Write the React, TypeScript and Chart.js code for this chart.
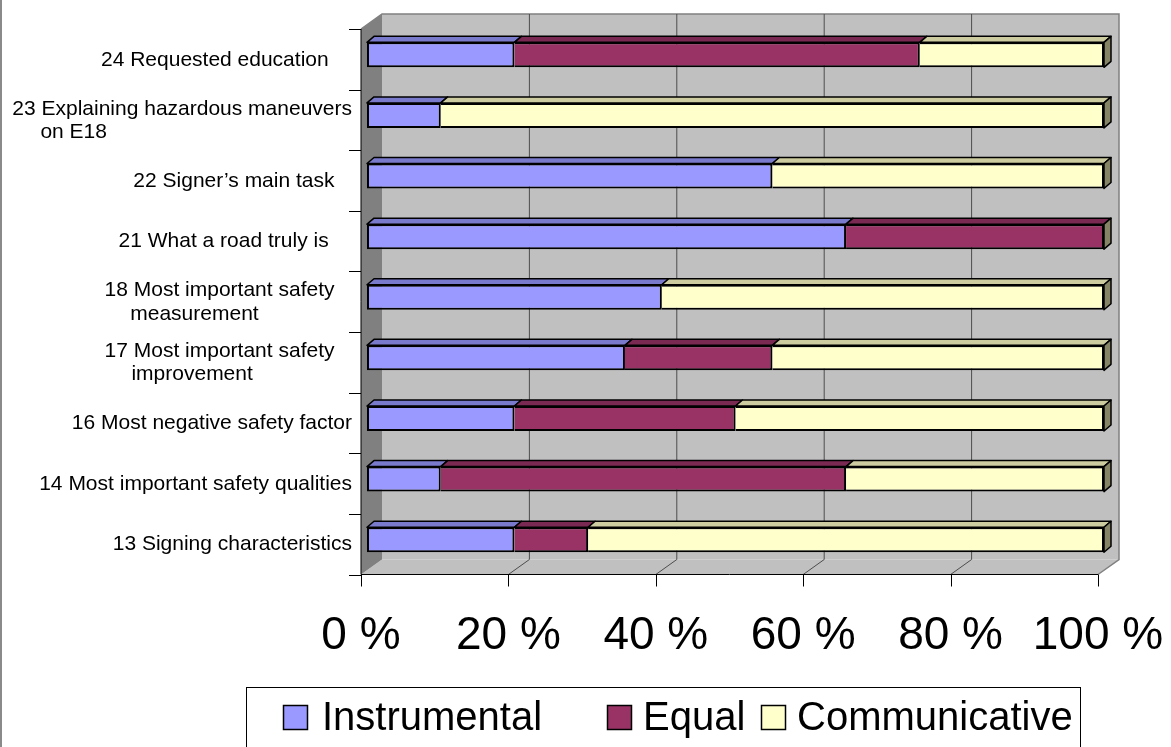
import React, { useEffect, useRef } from "react";
import { Chart, registerables } from "chart.js";

Chart.register(...registerables);

const FONT = '"Liberation Sans", Arial, Helvetica, sans-serif';

// Category labels (top to bottom), with the spacing of the original labels
const categoryLabels: (string | string[])[] = [
  "24 Requested education    ",
  ["23 Explaining hazardous maneuvers", "on E18" + " ".repeat(42)],
  "22 Signer\u2019s main task   ",
  "21 What a road truly is    ",
  ["18 Most important safety   ", "measurement" + " ".repeat(16)],
  ["17 Most important safety   ", "improvement" + " ".repeat(17)],
  "16 Most negative safety factor",
  "14 Most important safety qualities",
  "13 Signing characteristics",
];

const seriesNames = ["Instrumental", "Equal", "Communicative"];

const instrumental = [20, 10, 55, 65, 40, 35, 20, 10, 20];
const equal = [55, 0, 0, 35, 0, 20, 30, 55, 10];
const communicative = [25, 90, 45, 0, 60, 45, 50, 35, 70];

const xTickValues = [0, 20, 40, 60, 80, 100];

const frontColors = ["#9999FF", "#993366", "#FFFFCC"];
const topColors = ["#7A7ACC", "#7A2952", "#CCCCA0"];
const sideColors = ["#6B6BB3", "#5C1F3D", "#858566"];

// 3D geometry (pixels): bar plane -> front plane, bar plane -> back wall, bar depth
const FRONT = { dx: -6, dy: 4.5 };
const BACK = { dx: 15, dy: -10.5 };
const DEPTH = { dx: 7, dy: -6 };

function poly(ctx: CanvasRenderingContext2D, pts: number[][]) {
  ctx.beginPath();
  ctx.moveTo(pts[0][0], pts[0][1]);
  for (let i = 1; i < pts.length; i++) ctx.lineTo(pts[i][0], pts[i][1]);
  ctx.closePath();
}

const wallsPlugin = {
  id: "walls3d",
  beforeDraw(chart: any) {
    const { ctx, chartArea: ca, scales } = chart;
    const x = scales.x;
    const n = categoryLabels.length;
    const left = x.getPixelForValue(0);
    const right = x.getPixelForValue(100);
    const fl = left + FRONT.dx, fr = right + FRONT.dx;
    const ft = ca.top + FRONT.dy, fb = ca.bottom + FRONT.dy;
    const bl = left + BACK.dx, br = right + BACK.dx;
    const bt = ca.top + BACK.dy, bb = ca.bottom + BACK.dy;
    ctx.save();
    // back wall
    ctx.fillStyle = "#C0C0C0";
    ctx.fillRect(bl, bt, br - bl, bb - bt);
    // floor
    poly(ctx, [[fl, fb], [fr, fb], [br, bb], [bl, bb]]);
    ctx.fillStyle = "#C0C0C0";
    ctx.fill();
    // left wall
    poly(ctx, [[fl, ft], [bl, bt], [bl, bb], [fl, fb]]);
    ctx.fillStyle = "#808080";
    ctx.fill();
    // outlines
    ctx.strokeStyle = "#808080";
    ctx.lineWidth = 1.5;
    ctx.beginPath();
    ctx.moveTo(fl, ft);
    ctx.lineTo(bl, bt);
    ctx.lineTo(br, bt);
    ctx.lineTo(br, bb);
    ctx.lineTo(fr, fb);
    ctx.stroke();
    // gridlines on wall and floor
    ctx.strokeStyle = "#4D4D4D";
    ctx.lineWidth = 1;
    for (const v of xTickValues) {
      if (v === 0 || v === 100) continue;
      const p = x.getPixelForValue(v);
      ctx.beginPath();
      ctx.moveTo(p + BACK.dx, bt);
      ctx.lineTo(p + BACK.dx, bb);
      ctx.lineTo(p + FRONT.dx, fb);
      ctx.stroke();
    }
    // axes
    ctx.strokeStyle = "#000";
    ctx.lineWidth = 1;
    ctx.beginPath();
    ctx.moveTo(fl, ft);
    ctx.lineTo(fl, fb);
    ctx.lineTo(fr, fb);
    ctx.stroke();
    // ticks left (category boundaries)
    const band = (ca.bottom - ca.top) / n;
    ctx.beginPath();
    for (let k = 0; k <= n; k++) {
      const yy = Math.round(ca.top + k * band + FRONT.dy) + 0.5;
      ctx.moveTo(fl - 12, yy);
      ctx.lineTo(fl, yy);
    }
    // ticks bottom
    for (const v of xTickValues) {
      const xx = Math.round(x.getPixelForValue(v) + FRONT.dx) + 0.5;
      ctx.moveTo(xx, fb);
      ctx.lineTo(xx, fb + 12);
    }
    ctx.stroke();
    ctx.restore();
  },
  afterDatasetsDraw(chart: any) {
    const { ctx } = chart;
    const metas = chart.data.datasets.map((_: any, i: number) => chart.getDatasetMeta(i));
    const n = categoryLabels.length;
    ctx.save();
    ctx.strokeStyle = "#000";
    ctx.lineWidth = 1.5;
    ctx.lineJoin = "round";
    for (let j = 0; j < n; j++) {
      let lastEnd = 0, top = 0, bottom = 0;
      metas.forEach((meta: any, i: number) => {
        const el = meta.data[j];
        if (!el) return;
        const p = el.getProps(["x", "y", "base", "height"], true);
        const x0 = Math.min(p.x, p.base), x1 = Math.max(p.x, p.base);
        top = p.y - p.height / 2;
        bottom = p.y + p.height / 2;
        lastEnd = Math.max(lastEnd, x1);
        if (x1 - x0 < 0.5) return;
        poly(ctx, [[x0, top], [x1, top], [x1 + DEPTH.dx, top + DEPTH.dy], [x0 + DEPTH.dx, top + DEPTH.dy]]);
        ctx.fillStyle = topColors[i];
        ctx.fill();
        ctx.stroke();
      });
      // right end face (drawn in the last series' shade)
      poly(ctx, [[lastEnd, top], [lastEnd + DEPTH.dx, top + DEPTH.dy], [lastEnd + DEPTH.dx, bottom + DEPTH.dy], [lastEnd, bottom]]);
      ctx.fillStyle = sideColors[sideColors.length - 1];
      ctx.fill();
      ctx.stroke();
    }
    ctx.restore();
  },
  afterDraw(chart: any) {
    const { ctx } = chart;
    ctx.save();
    // outer border on the left edge
    ctx.fillStyle = "#8A8A8A";
    ctx.fillRect(0, 0, 2, chart.height);
    // legend
    ctx.strokeStyle = "#000";
    ctx.lineWidth = 1;
    ctx.strokeRect(246.5, 687.5, 834, 80);
    const swatchX = [283, 607, 761];
    const textX = [322, 643, 797];
    ctx.font = `40px ${FONT}`;
    ctx.textBaseline = "alphabetic";
    ctx.textAlign = "left";
    chart.data.datasets.forEach((ds: any, i: number) => {
      ctx.fillStyle = ds.backgroundColor;
      ctx.fillRect(swatchX[i], 705, 24, 24);
      ctx.strokeStyle = "#000";
      ctx.lineWidth = 1.5;
      ctx.strokeRect(swatchX[i] + 0.5, 705.5, 24, 24);
      ctx.fillStyle = "#000";
      ctx.fillText(ds.label, textX[i], 730);
    });
    ctx.restore();
  },
};

export default function App() {
  const ref = useRef<HTMLCanvasElement>(null);
  useEffect(() => {
    document.body.style.margin = "0";
    const series = [instrumental, equal, communicative];
    const chart = new Chart(ref.current as HTMLCanvasElement, {
      type: "bar",
      data: {
        labels: categoryLabels as any,
        datasets: series.map((data, i) => ({
          label: seriesNames[i],
          data,
          backgroundColor: frontColors[i],
          borderColor: "#000",
          borderWidth: { top: 2, right: 2, bottom: 2, left: i === 0 ? 2 : 0 },
          borderSkipped: false,
          barThickness: 25,
          inflateAmount: 0,
        })) as any,
      },
      options: {
        indexAxis: "y",
        responsive: false,
        animation: false,
        devicePixelRatio: 1,
        layout: { padding: { left: 0, top: 24.5, right: 67, bottom: 77 } },
        plugins: {
          legend: { display: false },
          tooltip: { enabled: false },
          title: { display: false },
        },
        scales: {
          x: {
            type: "linear",
            stacked: true,
            min: 0,
            max: 100,
            grid: { display: false, drawTicks: true, tickLength: 38 },
            border: { display: false },
            ticks: {
              stepSize: 20,
              autoSkip: false,
              maxRotation: 0,
              padding: 1,
              labelOffset: FRONT.dx,
              color: "#000",
              font: { family: FONT, size: 46 },
              callback: (v: any) => `${v} %`,
            },
            afterFit: (s: any) => {
              s.height = 100;
            },
          },
          y: {
            type: "category",
            stacked: true,
            grid: { display: false, drawTicks: true, tickLength: 13 },
            border: { display: false },
            ticks: {
              autoSkip: false,
              padding: 2,
              labelOffset: 5,
              color: "#000",
              font: { family: FONT, size: 21, lineHeight: 1.1 },
            },
            afterFit: (s: any) => {
              s.width = 367;
            },
          },
        },
      } as any,
      plugins: [wallsPlugin],
    });
    return () => chart.destroy();
  }, []);
  return (
    <div style={{ width: 1171, height: 747 }}>
      <canvas ref={ref} width={1171} height={747} style={{ display: "block" }} />
    </div>
  );
}
